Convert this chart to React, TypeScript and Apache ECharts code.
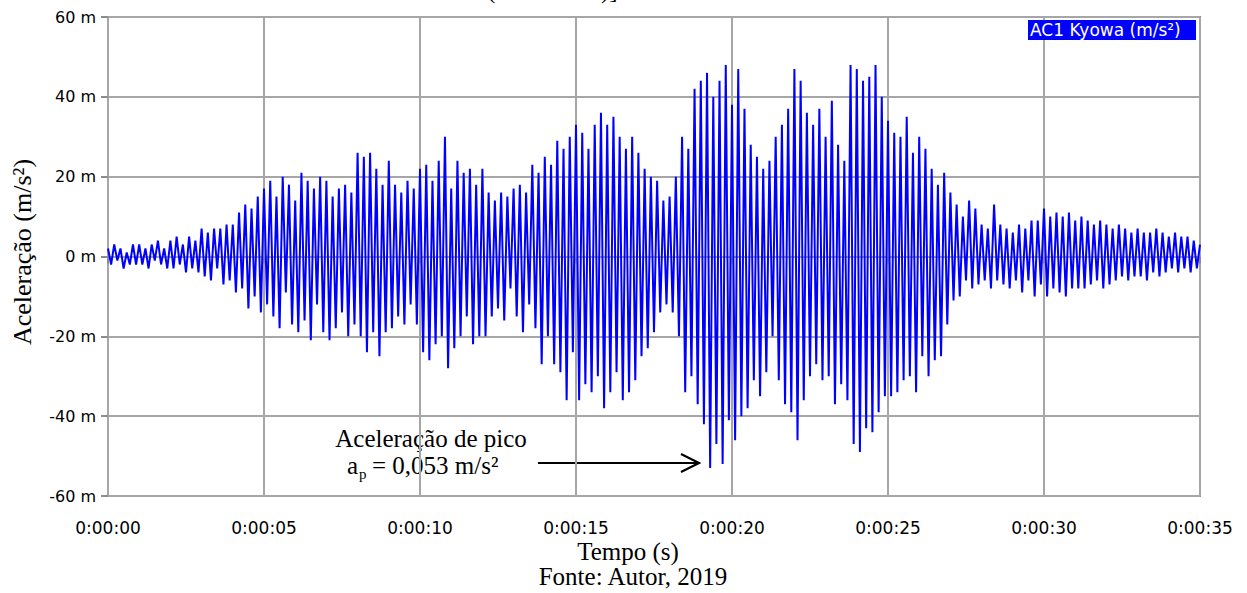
import React, { useEffect, useRef } from "react";
import * as echarts from "echarts";

// Acceleration peaks (x10^-3 m/s²), one value every 0.1 s
const seg0_5 = [
  2, -2, 3, -1, 2, -3, 1, -2, 3, -2,
  3, -2, 2, -3, 3, -1, 4, -2, 2, -3,
  4, -3, 5, -2, 3, -4, 5, -3, 4, -4,
  7, -5, 6, -6, 7, -3, 7, -7, 8, -6,
  8, -9, 11, -8, 13, -13, 12, -10, 15, -14,
];
const seg5_10 = [
  17, -12, 19, -15, 15, -18, 20, -9, 18, -17,
  14, -19, 21, -16, 19, -21, 17, -12, 20, -19,
  19, -21, 15, -18, 17, -14, 18, -20, 16, -17,
  26, -20, 25, -24, 26, -19, 22, -25, 18, -19,
  24, -18, 18, -15, 16, -17, 19, -12, 17, -17,
];
const seg10_15 = [
  22, -24, 23, -26, 19, -22, 24, -20, 30, -28,
  17, -23, 24, -20, 21, -15, 22, -22, 18, -20,
  22, -20, 16, -15, 14, -13, 16, -16, 15, -8,
  17, -15, 18, -19, 16, -12, 23, -18, 21, -27,
  25, -20, 23, -27, 29, -29, 27, -36, 30, -24,
];
const seg15_20 = [
  33, -36, 31, -32, 27, -34, 33, -30, 36, -38,
  33, -34, 35, -29, 30, -36, 27, -34, 30, -31,
  26, -25, 22, -23, 20, -19, 19, -14, 14, -12,
  15, -14, 20, -20, 30, -34, 27, -30, 42, -37,
  44, -42, 46, -53, 40, -47, 44, -52, 48, -41,
];
const seg20_25 = [
  38, -46, 47, -40, 37, -38, 28, -31, 25, -35,
  22, -29, 24, -20, 30, -31, 33, -37, 37, -39,
  47, -46, 44, -36, 36, -30, 33, -27, 37, -31,
  30, -30, 39, -37, 28, -32, 24, -36, 48, -47,
  47, -49, 44, -43, 45, -44, 48, -39, 40, -35,
];
const seg25_30 = [
  34, -35, 31, -34, 30, -31, 35, -30, 26, -34,
  30, -25, 27, -30, 22, -26, 18, -25, 21, -17,
  16, -11, 13, -10, 10, -6, 14, -8, 12, -7,
  8, -6, 7, -8, 13, -6, 8, -7, 7, -8,
  6, -6, 8, -9, 7, -6, 9, -10, 9, -7,
];
const seg30_35 = [
  12, -10, 10, -8, 11, -9, 10, -10, 11, -8,
  9, -8, 10, -8, 9, -7, 8, -6, 9, -8,
  8, -7, 7, -6, 8, -5, 7, -6, 6, -5,
  7, -5, 6, -6, 6, -4, 7, -5, 6, -4,
  5, -3, 6, -4, 5, -3, 5, -4, 4, -3, 3,
];
const sampleStep = 0.1;

const xTickLabels = ["0:00:00", "0:00:05", "0:00:10", "0:00:15", "0:00:20", "0:00:25", "0:00:30", "0:00:35"];
const seriesName = "AC1 Kyowa (m/s²)";

export default function App() {
  const ref = useRef<HTMLDivElement>(null);
  useEffect(() => {
    if (!ref.current) return;
    const chart = echarts.init(ref.current, null, { renderer: "svg" });
    const values = [...seg0_5, ...seg5_10, ...seg10_15, ...seg15_20, ...seg20_25, ...seg25_30, ...seg30_35];
    const data = values.map((v, i) => [+(i * sampleStep).toFixed(2), v]);
    const serif = '"Liberation Serif", "Times New Roman", serif';
    const sans = '"DejaVu Sans", sans-serif';
    chart.setOption({
      animation: false,
      backgroundColor: "#ffffff",
      grid: {
        left: 108, right: 47, top: 17, bottom: 97,
        show: true, borderColor: "#8c8c8c", borderWidth: 2, backgroundColor: "transparent",
      },
      xAxis: {
        type: "value", min: 0, max: 35, interval: 5,
        axisLine: { show: false },
        axisTick: { show: true, inside: false, length: 7, lineStyle: { color: "#8c8c8c", width: 2 } },
        splitLine: { show: true, lineStyle: { color: "#a6a6a6", width: 2 } },
        axisLabel: {
          margin: 23, fontFamily: sans, fontSize: 17, color: "#000",
          formatter: (v: number) => xTickLabels[Math.round(v / 5)] ?? "",
        },
      },
      yAxis: {
        type: "value", min: -60, max: 60, interval: 20,
        axisLine: { show: false },
        axisTick: { show: true, inside: false, length: 7, lineStyle: { color: "#8c8c8c", width: 2 } },
        splitLine: { show: true, lineStyle: { color: "#a6a6a6", width: 2 } },
        axisLabel: {
          margin: 12, fontFamily: sans, fontSize: 16, color: "#000",
          formatter: (v: number) => `${v} m`,
        },
      },
      series: [
        {
          name: seriesName, type: "line", data, showSymbol: false, symbol: "none",
          lineStyle: { color: "#0000ff", width: 2 }, z: 3,
        },
      ],
      graphic: [
        { type: "text", x: 487, y: -23, style: { text: "(", font: `25px ${serif}`, fill: "#000" } },
        { type: "text", x: 601, y: -23, style: { text: ")]", font: `25px ${serif}`, fill: "#000" } },
        { type: "rect", shape: { x: 1028, y: 20, width: 168, height: 20 }, style: { fill: "#0000ff" }, z: 10 },
        { type: "text", x: 1030, y: 30, z: 11, style: { text: seriesName, font: `17px ${sans}`, fill: "#ffffff", verticalAlign: "middle", align: "left" } },
        { type: "text", x: 22, y: 252, rotation: Math.PI / 2, style: { text: "Aceleração (m/s²)", font: `26px ${serif}`, fill: "#000", align: "center", verticalAlign: "middle" } },
        { type: "text", x: 431, y: 438, style: { text: "Aceleração de pico", font: `25px ${serif}`, fill: "#000", align: "center", verticalAlign: "middle", lineHeight: 22 } },
        { type: "text", x: 347, y: 465, style: { text: "a", font: `25px ${serif}`, fill: "#000", align: "left", verticalAlign: "middle", lineHeight: 22 } },
        { type: "text", x: 359, y: 474, style: { text: "p", font: `15px ${serif}`, fill: "#000", align: "left", verticalAlign: "middle" } },
        { type: "text", x: 372, y: 465, style: { text: "= 0,053 m/s²", font: `25px ${serif}`, fill: "#000", align: "left", verticalAlign: "middle", lineHeight: 22 } },
        { type: "line", shape: { x1: 538, y1: 463, x2: 698, y2: 463 }, style: { stroke: "#000", lineWidth: 2.2 } },
        { type: "polyline", shape: { points: [[681, 454], [699, 463], [681, 472]] }, style: { stroke: "#000", lineWidth: 2.2, fill: "none" } },
        { type: "text", x: 628, y: 551, style: { text: "Tempo (s)", font: `25px ${serif}`, fill: "#000", align: "center", verticalAlign: "middle", lineHeight: 23 } },
        { type: "text", x: 633, y: 576, style: { text: "Fonte: Autor, 2019", font: `25px ${serif}`, fill: "#000", align: "center", verticalAlign: "middle", lineHeight: 23 } },
      ],
    });
    return () => chart.dispose();
  }, []);
  return <div ref={ref} style={{ position: "absolute", left: 0, top: 0, width: 1247, height: 593 }} />;
}
